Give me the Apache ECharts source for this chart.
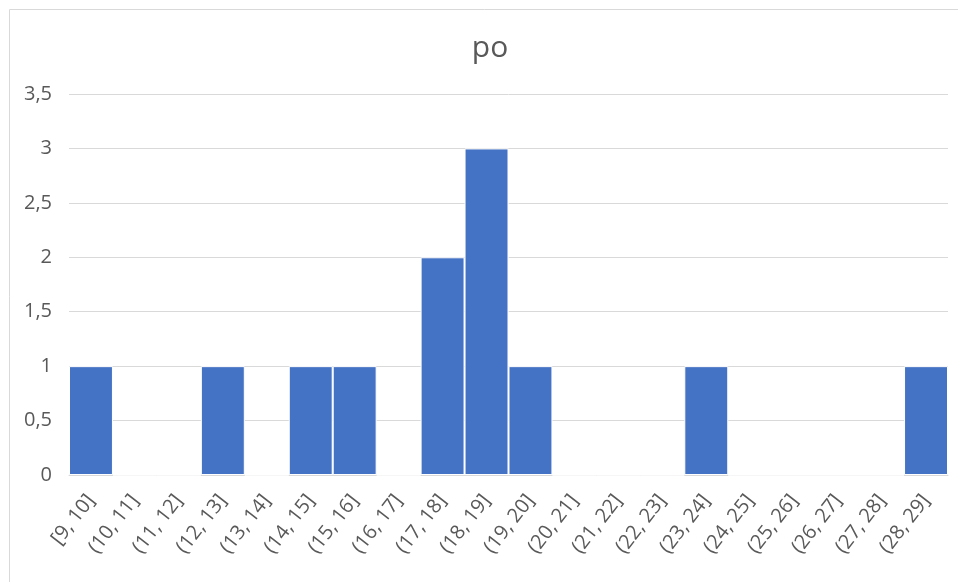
<!DOCTYPE html>
<html>
<head>
<meta charset="utf-8">
<script src="https://cdn.jsdelivr.net/npm/echarts@6/dist/echarts.min.js"></script>
<style>
  html, body { margin: 0; padding: 0; background: #fff; }
  #chart { width: 958px; height: 582px; }
</style>
</head>
<body>
<div id="chart"></div>
<script>
  // bins of the histogram
  const categories = ['[9, 10]', '(10, 11]', '(11, 12]', '(12, 13]', '(13, 14]', '(14, 15]', '(15, 16]',
    '(16, 17]', '(17, 18]', '(18, 19]', '(19, 20]', '(20, 21]', '(21, 22]', '(22, 23]', '(23, 24]',
    '(24, 25]', '(25, 26]', '(26, 27]', '(27, 28]', '(28, 29]'];
  const counts = [1, 0, 0, 1, 0, 1, 1, 0, 2, 3, 1, 0, 0, 0, 1, 0, 0, 0, 0, 1];

  const chart = echarts.init(document.getElementById('chart'));
  const textColor = '#595959';
  const font = '"Open Sans", "Liberation Sans", sans-serif';

  chart.setOption({
    animation: false,
    title: {
      text: 'po',
      left: 485,
      textAlign: 'center',
      top: 28,
      textStyle: { fontFamily: font, fontSize: 30, fontWeight: 'normal', color: textColor }
    },
    // outer chart frame, cut off at right and bottom like the original
    graphic: [{
      type: 'rect',
      shape: { x: 9.5, y: 9.5, width: 1000, height: 1000 },
      style: { fill: 'none', stroke: '#d9d9d9', lineWidth: 1 },
      silent: true
    }],
    grid: { left: 69, right: 10, top: 94, bottom: 107 },
    xAxis: {
      type: 'category',
      data: categories,
      axisTick: { show: false },
      axisLine: { lineStyle: { color: '#d9d9d9' } },
      axisLabel: {
        rotate: 52,
        interval: 0,
        margin: 22,
        color: textColor,
        fontFamily: font,
        fontSize: 20
      }
    },
    yAxis: {
      type: 'value',
      min: 0,
      max: 3.5,
      interval: 0.5,
      axisLine: { show: false },
      axisTick: { show: false },
      splitLine: { lineStyle: { color: '#d9d9d9' } },
      axisLabel: {
        color: textColor,
        fontFamily: font,
        fontSize: 20,
        margin: 17,
        formatter: v => String(v).replace('.', ',')
      }
    },
    series: [{
      type: 'bar',
      data: counts,
      barCategoryGap: '0%',
      itemStyle: { color: '#4472c4', borderColor: '#ffffff', borderWidth: 1 }
    }]
  });
</script>
</body>
</html>
